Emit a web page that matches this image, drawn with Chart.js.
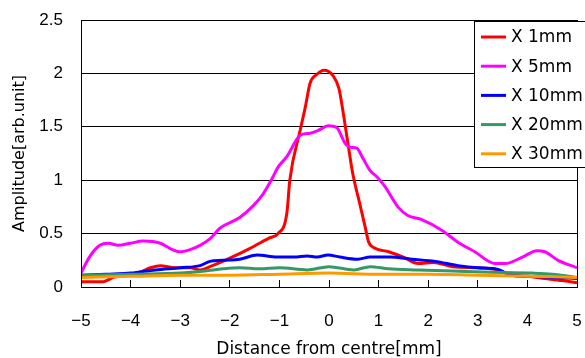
<!DOCTYPE html>
<html>
<head>
<meta charset="utf-8">
<script src="https://cdn.jsdelivr.net/npm/chart.js@4.4.1/dist/chart.umd.min.js"></script>
<style>
  html, body { margin: 0; padding: 0; background: #fff; }
  #wrap { width: 585px; height: 358px; }
</style>
</head>
<body>
<div id="wrap"><canvas id="chart"></canvas></div>
<script>
// values
const seriesLabels = ['X 1mm', 'X 5mm', 'X 10mm', 'X 20mm', 'X 30mm'];
const seriesColors = ['#ff0000', '#ff00ff', '#0000ff', '#339966', '#ff9900'];

const x1mm = [-5, -4.55, -4.35, -4.0, -3.8, -3.6, -3.4, -3.1, -2.8, -2.6, -2.4, -2.0, -1.6, -1.2, -1.03, -0.85, -0.79, -0.58, -0.48, -0.38, -0.25, -0.1, 0.08, 0.2, 0.28, 0.38, 0.48, 0.62, 0.73, 0.8, 0.9, 1.2, 1.5, 1.8, 2.1, 2.5, 3.0, 3.4, 3.7, 4.0, 4.35, 4.7, 5];
const y1mm = [0.05, 0.05, 0.09, 0.12, 0.14, 0.18, 0.2, 0.18, 0.18, 0.16, 0.19, 0.27, 0.36, 0.46, 0.5, 0.69, 1.0, 1.47, 1.68, 1.91, 1.99, 2.03, 1.98, 1.86, 1.65, 1.35, 1.06, 0.78, 0.56, 0.42, 0.37, 0.33, 0.28, 0.22, 0.23, 0.19, 0.18, 0.16, 0.11, 0.1, 0.08, 0.06, 0.04];

const x5mm = [-5, -4.83, -4.62, -4.45, -4.25, -4.0, -3.75, -3.4, -3.2, -3.0, -2.8, -2.6, -2.4, -2.2, -1.8, -1.53, -1.33, -1.13, -1.03, -0.85, -0.58, -0.38, -0.2, -0.02, 0.16, 0.32, 0.42, 0.56, 0.69, 0.83, 0.97, 1.13, 1.39, 1.59, 1.87, 2.28, 2.6, 2.94, 3.35, 3.55, 3.9, 4.19, 4.35, 4.62, 5];
const y5mm = [0.13, 0.28, 0.39, 0.41, 0.39, 0.41, 0.43, 0.41, 0.36, 0.33, 0.35, 0.39, 0.45, 0.55, 0.65, 0.76, 0.87, 1.03, 1.12, 1.22, 1.42, 1.44, 1.47, 1.51, 1.49, 1.35, 1.31, 1.30, 1.2, 1.09, 1.03, 0.94, 0.75, 0.67, 0.63, 0.53, 0.42, 0.33, 0.22, 0.22, 0.28, 0.34, 0.33, 0.25, 0.18];

const x10mm = [-5, -4.5, -4.0, -3.5, -3.0, -2.6, -2.4, -2.14, -1.8, -1.45, -1.05, -0.7, -0.44, -0.24, -0.02, 0.22, 0.58, 0.83, 1.23, 1.67, 2.14, 2.6, 3.0, 3.35, 3.69, 4.01, 4.5, 5];
const y10mm = [0.11, 0.12, 0.13, 0.16, 0.18, 0.2, 0.24, 0.25, 0.26, 0.3, 0.28, 0.28, 0.29, 0.28, 0.3, 0.28, 0.26, 0.28, 0.28, 0.26, 0.24, 0.2, 0.18, 0.17, 0.11, 0.1, 0.09, 0.08];

const x20mm = [-5, -4, -3, -2.5, -2.14, -1.8, -1.4, -1.0, -0.44, 0, 0.5, 0.83, 1.2, 1.8, 2.5, 3.1, 4.1, 4.5, 5];
const y20mm = [0.11, 0.12, 0.13, 0.15, 0.17, 0.18, 0.17, 0.18, 0.16, 0.19, 0.16, 0.19, 0.17, 0.16, 0.15, 0.14, 0.13, 0.12, 0.09];

const x30mm = [-5, -4, -3, -2, -1, 0, 1, 2, 3, 4, 5];
const y30mm = [0.09, 0.1, 0.11, 0.11, 0.12, 0.13, 0.12, 0.12, 0.11, 0.1, 0.09];

const xValues = [x1mm, x5mm, x10mm, x20mm, x30mm];
const yValues = [y1mm, y5mm, y10mm, y20mm, y30mm];

const toPoints = (xs, ys) => xs.map((x, i) => ({ x: x, y: ys[i] }));

// frame + legend box drawn over the plot, like the Excel original
const framePlugin = {
    id: 'frame',
    afterDraw(chart) {
        const ctx = chart.ctx;
        const a = chart.chartArea;
        ctx.save();
        ctx.strokeStyle = '#000';
        ctx.lineWidth = 1;
        ctx.strokeRect(Math.round(a.left) + 0.5, Math.round(a.top) + 0.5,
            Math.round(a.right - a.left), Math.round(a.bottom - a.top));

        const bx = Math.round(a.right) - 103;
        const by = Math.round(a.top) + 1;
        ctx.fillStyle = '#fff';
        ctx.fillRect(bx, by, 140, 146);
        ctx.strokeRect(bx + 0.5, by + 0.5, 140, 146);

        ctx.font = '17px "DejaVu Sans"';
        ctx.textBaseline = 'middle';
        chart.data.datasets.forEach((ds, i) => {
            const ry = by + 16 + i * 29.2;
            ctx.strokeStyle = ds.borderColor;
            ctx.lineWidth = 3;
            ctx.beginPath();
            ctx.moveTo(bx + 7, ry);
            ctx.lineTo(bx + 32, ry);
            ctx.stroke();
            ctx.fillStyle = '#000';
            ctx.fillText(ds.label, bx + 37, ry + 1);
        });
        ctx.restore();
    }
};

const ctx = document.getElementById('chart').getContext('2d');

new Chart(ctx, {
    type: 'line',
    data: {
        datasets: seriesLabels.map((label, i) => ({
            label: label,
            data: toPoints(xValues[i], yValues[i]),
            borderColor: seriesColors[i],
            backgroundColor: seriesColors[i],
            borderWidth: 3,
            pointRadius: 0,
            cubicInterpolationMode: 'monotone',
            fill: false,
            order: seriesLabels.length - i
        }))
    },
    options: {
        responsive: true,
        maintainAspectRatio: false,
        animation: false,
        layout: { padding: { top: 20, right: 8, left: 0, bottom: 0 } },
        plugins: {
            legend: { display: false },
            tooltip: { enabled: false }
        },
        scales: {
            x: {
                type: 'linear',
                min: -5,
                max: 5,
                afterFit(scale) {
                    scale.height = 71;
                    scale.paddingLeft = 0;
                    scale.paddingRight = 0;
                },
                ticks: {
                    stepSize: 1,
                    padding: 31,
                    color: '#000',
                    font: { family: '"Liberation Sans"', size: 17 },
                    callback: v => (v < 0 ? '\u2212' + Math.abs(v) : String(v))
                },
                grid: {
                    drawOnChartArea: false,
                    drawTicks: true,
                    tickLength: -7,
                    color: '#000'
                },
                border: { color: '#000' },
                title: {
                    display: true,
                    text: 'Distance from centre[mm]',
                    color: '#000',
                    padding: { top: 0, bottom: 0 },
                    font: { family: '"DejaVu Sans"', size: 17, lineHeight: 1 }
                }
            },
            y: {
                min: 0,
                max: 2.5,
                afterFit(scale) {
                    scale.width = 81;
                    scale.paddingTop = 0;
                    scale.paddingBottom = 0;
                },
                ticks: {
                    stepSize: 0.5,
                    padding: 18,
                    color: '#000',
                    font: { family: '"Liberation Sans"', size: 17 },
                    callback: v => String(v)
                },
                grid: {
                    drawTicks: false,
                    color: '#000'
                },
                border: { color: '#000' },
                title: {
                    display: true,
                    text: 'Amplitude[arb.unit]',
                    color: '#000',
                    padding: { top: 10, bottom: 0 },
                    font: { family: '"DejaVu Sans"', size: 16 }
                }
            }
        }
    },
    plugins: [framePlugin]
});
</script>
</body>
</html>
